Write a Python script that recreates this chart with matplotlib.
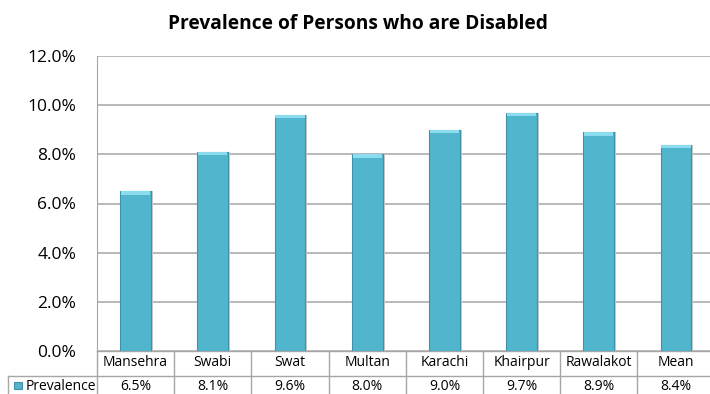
import numpy as np
import matplotlib
matplotlib.use("Agg")
import matplotlib.pyplot as plt
from matplotlib.patches import Rectangle

# 各地区残疾人患病率
regions = ['Mansehra', 'Swabi', 'Swat', 'Multan', 'Karachi', 'Khairpur', 'Rawalakot', 'Mean']
prevalence = [6.5, 8.1, 9.6, 8.0, 9.0, 9.7, 8.9, 8.4]
yticks = [0, 2, 4, 6, 8, 10, 12]
series_name = 'Prevalence'

plt.rcParams['font.family'] = ['Open Sans', 'DejaVu Sans']

W, H = 710, 394
fig = plt.figure(figsize=(W / 100, H / 100), dpi=100)

# 像素 -> 数据坐标 (每个类别约 77.2 像素宽)
cat_w = 77.2
left_px = 97


def px2x(px):
    return (px - left_px) / cat_w - 0.5


xmax = px2x(W)
grid_c = '#b3b3b3'
line_c = '#a6a6a6'
bar_c = '#52b5ce'

# 主图
ax = fig.add_axes([left_px / W, 1 - 351 / H, (W - left_px) / W, (351 - 56) / H])
ax.set_xlim(-0.5, xmax)
ax.set_ylim(0, 12)
for s in ax.spines.values():
    s.set_visible(False)
ax.spines['left'].set_visible(True)
ax.spines['left'].set_color(line_c)
ax.set_xticks([])
ax.set_yticks(yticks)
ax.set_yticklabels(['%.1f%%' % t for t in yticks], fontsize=12.5)
ax.tick_params(axis='y', length=0, pad=15)
for t in yticks:
    ax.axhline(t, color=grid_c, lw=1.3, zorder=0)

x = np.arange(len(regions))
bw = 0.40
# 阴影
ax.bar(x + 0.025, prevalence, width=bw, color='#c8c8c8', zorder=1)
ax.bar(x, prevalence, width=bw, color=bar_c, edgecolor='#3e93aa', lw=0.8, zorder=2)
# 顶部高光
ax.bar(x, [0.14] * len(x), bottom=np.array(prevalence) - 0.14, width=bw - 0.02,
       color='#8adcee', lw=0, zorder=3)

fig.text(358 / W, 1 - 24 / H, 'Prevalence of Persons who are Disabled', fontsize=13.8,
         fontweight='bold', ha='center', va='center')

# 数据表
tb = fig.add_axes([0, 0, 1, (H - 351) / H])
tb.set_xlim(px2x(0), xmax)
tb.set_ylim(-0.2, 43)   # y 以像素计，从底部向上
tb.axis('off')
row_y = H - 376
tb.plot([-0.5, xmax], [43, 43], color=line_c, lw=1)
tb.plot([px2x(8), xmax], [row_y, row_y], color=line_c, lw=1)
tb.plot([-0.5, -0.5], [0, 43], color=line_c, lw=1)
tb.plot([px2x(8), px2x(8)], [0, row_y], color=line_c, lw=1)
for i in range(len(regions) - 1):
    tb.plot([i + 0.5, i + 0.5], [0, 43], color=line_c, lw=1)

for i, (r, v) in enumerate(zip(regions, prevalence)):
    tb.text(i, (43 + row_y) / 2 + 0.5, r, ha='center', va='center', fontsize=10)
    tb.text(i, row_y / 2 - 1.5, '%.1f%%' % v, ha='center', va='center', fontsize=10)

# 图例标记
tb.add_patch(Rectangle((px2x(14), 4.5), 8 / cat_w, 7.5, facecolor=bar_c,
                       edgecolor='#3e93aa', lw=0.8))
tb.text(px2x(26), row_y / 2 - 1.5, series_name, ha='left', va='center', fontsize=10)

fig.savefig('out.png', dpi=100)
